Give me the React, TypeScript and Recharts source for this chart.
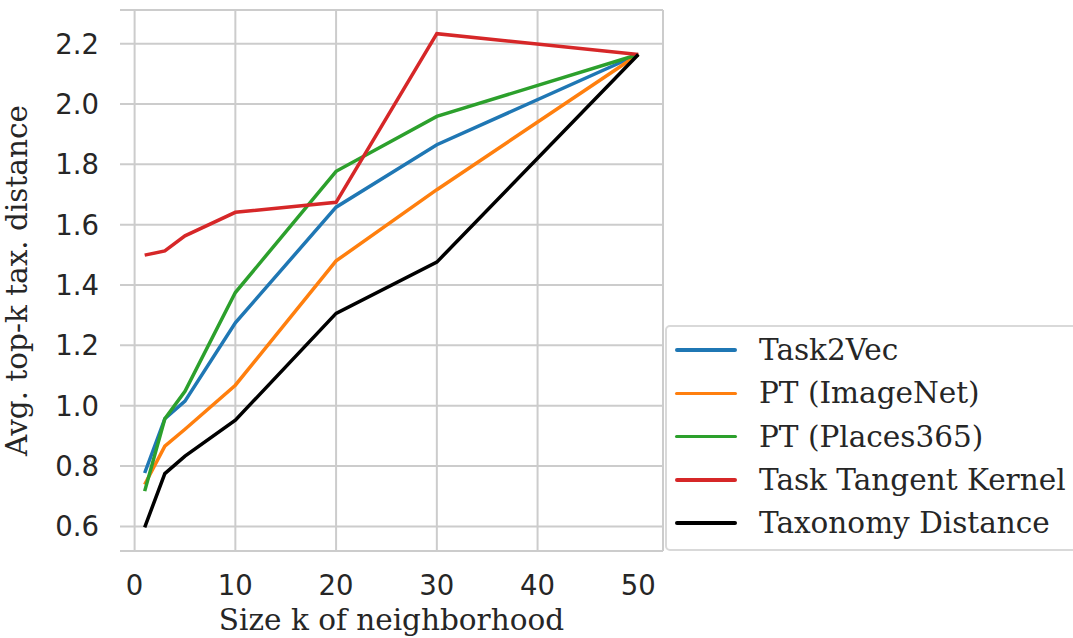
import React from "react";
import { LineChart, Line, XAxis, YAxis, CartesianGrid } from "recharts";

const kValues = [1, 3, 5, 10, 20, 30, 50];
const task2vec = [0.777, 0.957, 1.015, 1.275, 1.658, 1.865, 2.164];
const ptImageNet = [0.739, 0.866, 0.922, 1.068, 1.48, 1.716, 2.164];
const ptPlaces = [0.717, 0.957, 1.048, 1.375, 1.777, 1.959, 2.164];
const taskTangent = [1.499, 1.513, 1.563, 1.641, 1.674, 2.233, 2.164];
const taxonomy = [0.597, 0.775, 0.833, 0.952, 1.306, 1.476, 2.164];

const xTicks = [0, 10, 20, 30, 40, 50];
const yTicks = [0.6, 0.8, 1.0, 1.2, 1.4, 1.6, 1.8, 2.0, 2.2];
const xDomain = [-1.45, 52.45];
const yDomain = [0.5185, 2.3115];

const series = [
  { key: "task2vec", name: "Task2Vec", color: "#1f77b4", values: task2vec },
  { key: "ptImageNet", name: "PT (ImageNet)", color: "#ff7f0e", values: ptImageNet },
  { key: "ptPlaces", name: "PT (Places365)", color: "#2ca02c", values: ptPlaces },
  { key: "taskTangent", name: "Task Tangent Kernel", color: "#d62728", values: taskTangent },
  { key: "taxonomy", name: "Taxonomy Distance", color: "#000000", values: taxonomy },
];

const data = kValues.map((k, i) => {
  const row: any = { k };
  series.forEach((s) => (row[s.key] = s.values[i]));
  return row;
});

const SANS = "'DejaVu Sans', sans-serif";
const SERIF = "'DejaVu Serif', serif";
const TEXT = "#262626";
const GRID = "#cccccc";

const XTick = (props: any) => {
  const { x, y, payload } = props;
  return (
    <text x={x} y={y} dy={44} textAnchor="middle" fontFamily={SANS} fontSize={27.5} fill={TEXT}>
      {payload.value}
    </text>
  );
};

const YTick = (props: any) => {
  const { x, y, payload } = props;
  return (
    <text x={x} y={y} dx={-21} dy="0.36em" textAnchor="end" fontFamily={SANS} fontSize={27.5} fill={TEXT}>
      {Number(payload.value).toFixed(1)}
    </text>
  );
};

export default function App() {
  return (
    <div style={{ position: "absolute", left: 0, top: 0, width: 1073, height: 638, background: "#fff", overflow: "hidden" }}>
      <LineChart width={1073} height={638} data={data} margin={{ top: 10, right: 410, left: 0, bottom: 0 }}>
        <CartesianGrid
          xAxisId="b"
          yAxisId="l"
          stroke={GRID}
          strokeWidth={2}
          horizontalValues={[yDomain[0], ...yTicks, yDomain[1]]}
          verticalValues={[xDomain[0], ...xTicks, xDomain[1]]}
        />
        <XAxis
          xAxisId="b"
          dataKey="k"
          type="number"
          domain={xDomain}
          allowDataOverflow
          ticks={xTicks}
          tick={<XTick />}
          tickLine={false}
          tickSize={0}
          tickMargin={0}
          height={87}
          axisLine={false}
          label={{
            content: (p: any) => {
              const vb = p.viewBox;
              return (
                <text x={vb.x + vb.width / 2} y={630} textAnchor="middle" fontFamily={SERIF} fontSize={29.5} fill={TEXT}>
                  Size k of neighborhood
                </text>
              );
            },
          }}
        />
        <YAxis
          yAxisId="l"
          type="number"
          domain={yDomain}
          allowDataOverflow
          ticks={yTicks}
          tick={<YTick />}
          tickLine={false}
          tickSize={0}
          tickMargin={0}
          width={120}
          axisLine={false}
          label={{
            content: (p: any) => {
              const vb = p.viewBox;
              const cx = 27;
              const cy = vb.y + vb.height / 2;
              return (
                <text x={cx} y={cy} transform={`rotate(-90, ${cx}, ${cy})`} textAnchor="middle" fontFamily={SERIF} fontSize={29.5} fill={TEXT}>
                  Avg. top-k tax. distance
                </text>
              );
            },
          }}
        />
        {series.map((s) => (
          <Line
            key={s.key}
            xAxisId="b"
            yAxisId="l"
            dataKey={s.key}
            name={s.name}
            type="linear"
            stroke={s.color}
            strokeWidth={3.5}
            dot={false}
            isAnimationActive={false}
          />
        ))}
      </LineChart>
      <div
        style={{
          position: "absolute",
          left: 665,
          top: 325,
          width: 430,
          height: 226,
          border: "2px solid #d9d9d9",
          borderRadius: 5,
          background: "rgba(255,255,255,0.8)",
          boxSizing: "border-box",
        }}
      >
        {series.map((s, i) => (
          <div
            key={s.key}
            style={{ position: "absolute", left: 0, top: 23 + i * 43.3 - 21.5, height: 43, width: 430, display: "flex", alignItems: "center" }}
          >
            <div style={{ marginLeft: 8, width: 62, height: 3.5, background: s.color, borderRadius: 2 }} />
            <span style={{ marginLeft: 22, fontFamily: SERIF, fontSize: 29.5, color: TEXT, whiteSpace: "nowrap" }}>{s.name}</span>
          </div>
        ))}
      </div>
    </div>
  );
}
